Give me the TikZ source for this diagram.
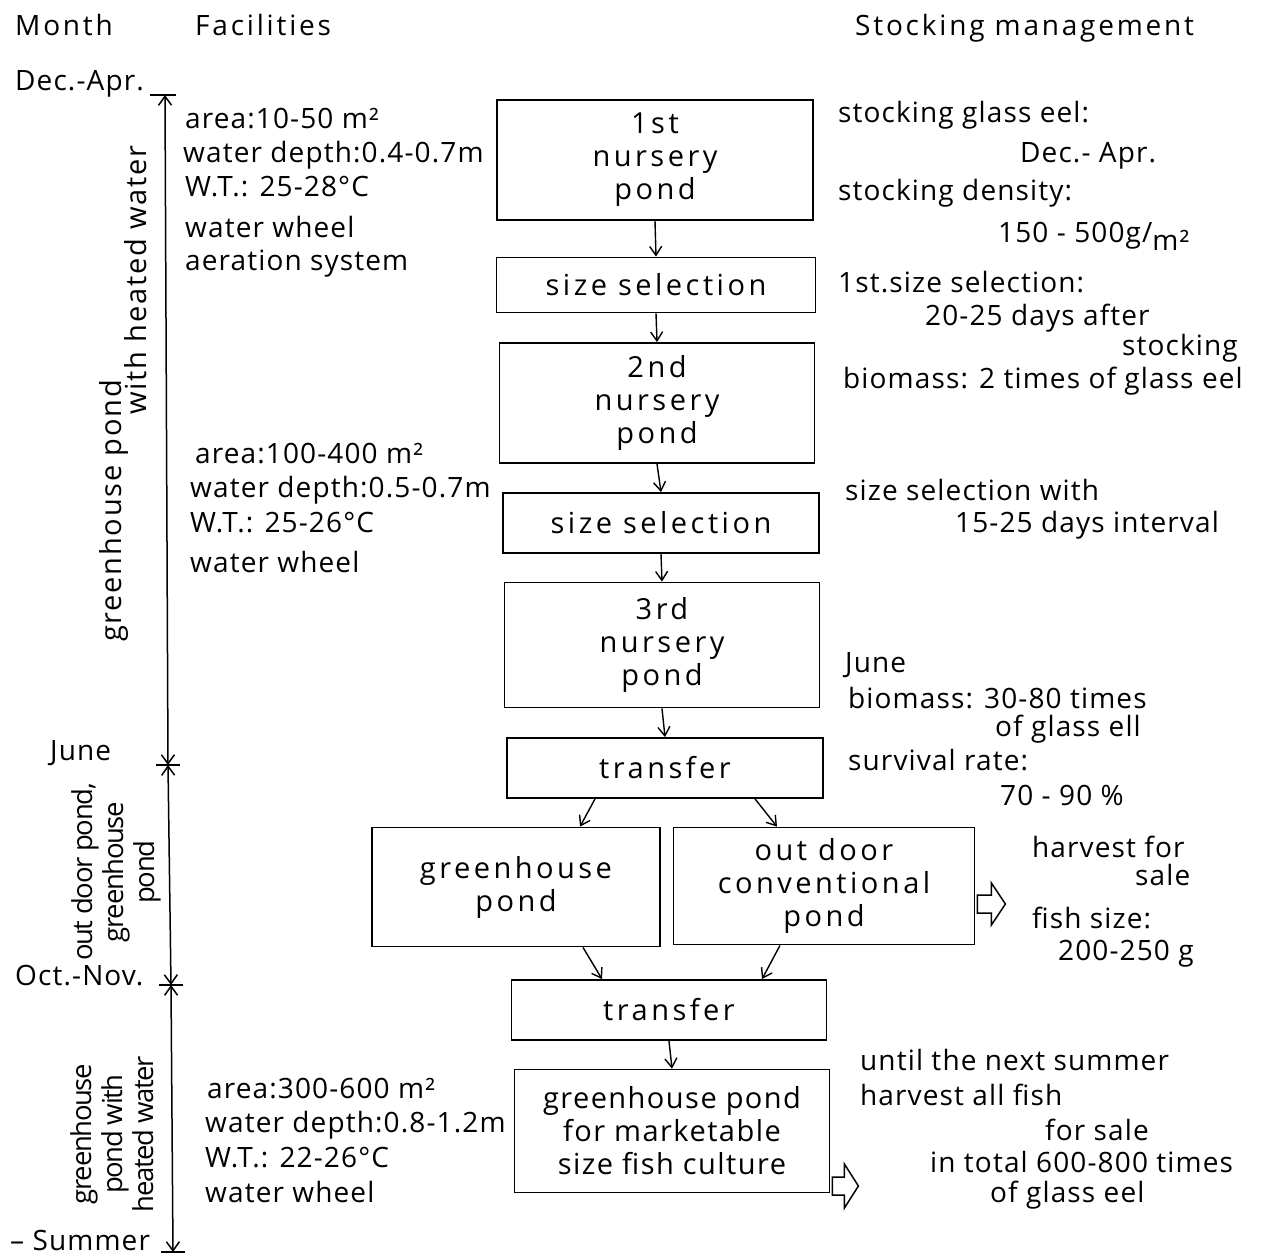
\documentclass[tikz,border=0pt]{standalone}
\usepackage{fontspec}
\setmainfont{Open Sans}
\usetikzlibrary{arrows.meta}
\begin{document}
\begin{tikzpicture}[x=1pt,y=-1pt,
  box/.style={draw,line width=1.8pt,align=center,inner sep=0pt,font=\fontsize{29}{33}\selectfont\addfontfeatures{LetterSpace=12}},
  txt/.style={anchor=base west,inner sep=0pt,font=\fontsize{28}{32}\selectfont\addfontfeatures{LetterSpace=4}},
  htxt/.style={anchor=base west,inner sep=0pt,font=\fontsize{28}{32}\selectfont\addfontfeatures{LetterSpace=10}},
  vtxt/.style={rotate=90,align=center,inner sep=0pt,font=\fontsize{29}{31}\selectfont\addfontfeatures{LetterSpace=6}},
  vtxtc/.style={rotate=90,align=center,inner sep=0pt,font=\fontsize{27.5}{31}\selectfont\addfontfeatures{LetterSpace=-5}},
  arr/.style={line width=1.4pt,-{Straight Barb[length=9pt,width=12pt]}},
  axis/.style={line width=1.5pt},
  axarr/.style={line width=1.5pt,{Straight Barb[length=9pt,width=13pt]}-{Straight Barb[length=9pt,width=13pt]}},
  hollow/.style={line width=1.5pt}]
\useasboundingbox (0,0) rectangle (1272,1258);
\fill[white] (0,0) rectangle (1272,1258);

% headers
\node[htxt] (hmonth) at (15,35) {Month};
\node[htxt] (hfac) at (195,35) {Facilities};
\node[htxt] (hstock) at (855,35) {Stocking management};

% boxes
\node[box,minimum width=316pt,minimum height=120pt] (n1) at (655,160) {1st\\nursery\\pond};
\node[box,minimum width=319pt,minimum height=55pt] (s1) at (656,285) {size selection};
\node[box,minimum width=315pt,minimum height=120pt] (n2) at (657,403) {2nd\\nursery\\pond};
\node[box,minimum width=316pt,minimum height=60pt] (s2) at (661,523) {size selection};
\node[box,minimum width=315pt,minimum height=125pt] (n3) at (662,645) {3rd\\nursery\\pond};
\node[box,minimum width=316pt,minimum height=60pt] (t1) at (665,768) {transfer};
\node[box,minimum width=288pt,minimum height=119pt] (gh) at (516,887) {greenhouse\\pond};
\node[box,minimum width=301pt,minimum height=117pt] (od) at (824,886) {out door\\conventional\\pond};
\node[box,minimum width=315pt,minimum height=60pt] (t2) at (669,1010) {transfer};
\node[box,minimum width=315pt,minimum height=123pt,font=\fontsize{29}{33}\selectfont\addfontfeatures{LetterSpace=5}] (fin) at (672,1131) {greenhouse pond\\for marketable\\size fish culture};

% connectors
\draw[arr] (n1.south) -- (s1.north);
\draw[arr] (s1.south) -- (n2.north);
\draw[arr] (n2.south) -- (s2.north);
\draw[arr] (s2.south) -- (n3.north);
\draw[arr] (n3.south) -- (t1.north);
\draw[arr] ([xshift=-70pt]t1.south) -- ([xshift=64pt]gh.north);
\draw[arr] ([xshift=90pt]t1.south) -- ([xshift=-47pt]od.north);
\draw[arr] ([xshift=67pt]gh.south) -- ([xshift=-67pt]t2.north);
\draw[arr] ([xshift=-44pt]od.south) -- ([xshift=93pt]t2.north);
\draw[arr] (t2.south) -- (fin.north);

% hollow arrows
\draw[hollow] ([xshift=2pt,yshift=-9pt]od.east) -- ++(14,0) -- ++(0,-12) -- ++(14,21) -- ++(-14,21) -- ++(0,-12) -- ++(-14,0) -- cycle;
\draw[hollow] ([xshift=2pt,yshift=-46pt]fin.east) -- ++(12,0) -- ++(0,-13) -- ++(14,22) -- ++(-14,22) -- ++(0,-13) -- ++(-12,0) -- cycle;

% time axis
\coordinate (ktop) at (165,95);
\coordinate (kjune) at (168,765);
\coordinate (koct) at (171,985);
\coordinate (ksum) at (173,1252);
\draw[axis] (150,95) -- (176,95);
\draw[axarr] (ktop) -- (kjune);
\draw[axarr] (kjune) -- (koct);
\draw[axarr] (koct) -- (ksum);
\draw[axis] ([xshift=-12pt]kjune) -- ([xshift=12pt]kjune);
\draw[axis] ([xshift=-12pt]koct) -- ([xshift=12pt]koct);
\draw[axis] ([xshift=-12pt]ksum) -- ([xshift=12pt]ksum);

\node[txt] (ldec) at (15,90) {Dec.-Apr.};
\node[txt] (ljune) at (50,760) {June};
\node[txt] (loct) at (15,985) {Oct.-Nov.};
\node[txt] (lsum) at (10,1250) {– Summer};

\node[vtxt] (v1a) at (114,511) {greenhouse pond};
\node[vtxt] (v1b) at (136,280) {with heated water};
\node[vtxtc] (v2) at (116,872) {out door pond,\\greenhouse\\pond};
\node[vtxtc] (v3) at (112,1134) {greenhouse\\pond with\\heated water};

% facilities
\node[txt] (f1a) at (185,128) {area:10-50 m²};
\node[txt] (f1b) at (183,162) {water depth:0.4-0.7m};
\node[txt] (f1c) at (185,196) {W.T.: 25-28°C};
\node[txt] (f1d) at (185,237) {water wheel};
\node[txt] (f1e) at (185,270) {aeration system};

\node[txt] (f2a) at (195,463) {area:100-400 m²};
\node[txt] (f2b) at (190,497) {water depth:0.5-0.7m};
\node[txt] (f2c) at (190,532) {W.T.: 25-26°C};
\node[txt] (f2d) at (190,572) {water wheel};

\node[txt] (f3a) at (207,1098) {area:300-600 m²};
\node[txt] (f3b) at (205,1132) {water depth:0.8-1.2m};
\node[txt] (f3c) at (205,1167) {W.T.: 22-26°C};
\node[txt] (f3d) at (205,1202) {water wheel};

% stocking management
\node[txt] (r1) at (838,122) {stocking glass eel:};
\node[txt] (r2) at (1020,162) {Dec.- Apr.};
\node[txt] (r3) at (838,200) {stocking density:};
\node[txt] (r4) at (998,242) {150 - 500g/\raisebox{-8pt}{m²}};
\node[txt] (r5) at (838,292) {1st.size selection:};
\node[txt] (r6) at (925,325) {20-25 days after};
\node[txt] (r7) at (1122,355) {stocking};
\node[txt] (r8) at (843,388) {biomass: 2 times of glass eel};
\node[txt] (r9) at (845,500) {size selection with};
\node[txt] (r10) at (955,532) {15-25 days interval};
\node[txt] (r11) at (845,672) {June};
\node[txt] (r12) at (848,708) {biomass: 30-80 times};
\node[txt] (r13) at (995,736) {of glass ell};
\node[txt] (r14) at (848,770) {survival rate:};
\node[txt] (r15) at (1000,805) {70 - 90 \%};
\node[txt] (r16) at (1032,857) {harvest for};
\node[txt] (r17) at (1135,885) {sale};
\node[txt] (r18) at (1032,928) {fish size:};
\node[txt] (r19) at (1058,960) {200-250 g};
\node[txt] (r20) at (860,1070) {until the next summer};
\node[txt] (r21) at (860,1105) {harvest all fish};
\node[txt] (r22) at (1045,1140) {for sale};
\node[txt] (r23) at (930,1172) {in total 600-800 times};
\node[txt] (r24) at (990,1202) {of glass eel};
\end{tikzpicture}
\end{document}
